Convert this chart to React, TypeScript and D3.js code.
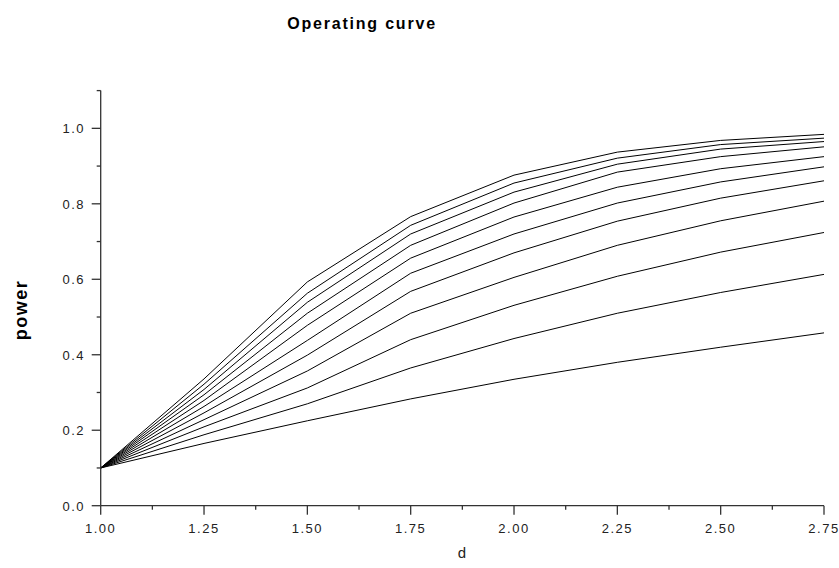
import React from 'react';
import * as d3 from 'd3';

// d values where the power was evaluated
const dValues = [1.0, 1.25, 1.5, 1.75, 2.0, 2.25, 2.5, 2.75];

// power curves, from the top one down to the bottom one
const curveA = [0.1, 0.336, 0.593, 0.766, 0.876, 0.937, 0.968, 0.984];
const curveB = [0.1, 0.322, 0.563, 0.743, 0.855, 0.921, 0.957, 0.974];
const curveC = [0.1, 0.308, 0.539, 0.72, 0.831, 0.905, 0.945, 0.965];
const curveD = [0.1, 0.294, 0.51, 0.69, 0.802, 0.884, 0.925, 0.951];
const curveE = [0.1, 0.279, 0.478, 0.656, 0.765, 0.844, 0.893, 0.925];
const curveF = [0.1, 0.263, 0.438, 0.616, 0.72, 0.802, 0.858, 0.898];
const curveG = [0.1, 0.246, 0.399, 0.568, 0.67, 0.754, 0.815, 0.861];
const curveH = [0.1, 0.228, 0.357, 0.51, 0.605, 0.69, 0.755, 0.807];
const curveI = [0.1, 0.209, 0.312, 0.44, 0.531, 0.608, 0.672, 0.724];
const curveJ = [0.1, 0.188, 0.27, 0.365, 0.443, 0.51, 0.565, 0.613];
const curveK = [0.1, 0.165, 0.225, 0.283, 0.335, 0.38, 0.42, 0.458];

const curves = [curveA, curveB, curveC, curveD, curveE, curveF, curveG, curveH, curveI, curveJ, curveK];

const xTickLabels = ['1.00', '1.25', '1.50', '1.75', '2.00', '2.25', '2.50', '2.75'];
const yTickLabels = ['0.0', '0.2', '0.4', '0.6', '0.8', '1.0'];

const W = 839;
const H = 568;

export default function App() {
  const x = d3.scaleLinear().domain([1, 2.75]).range([100.7, 824]);
  const y = d3.scaleLinear().domain([0, 1.1]).range([505.7, 90.6]);

  const line = d3.line<number>()
    .x((_, i) => x(dValues[i]))
    .y((v) => y(v));

  const xMinor = d3.range(1.125, 2.75, 0.25);
  const yMinor = d3.range(0.1, 1.11, 0.2);
  const axisColor = '#333';
  const tickFont = { fontFamily: 'Liberation Sans, Arial, sans-serif', fontSize: 13, letterSpacing: 1.5, fill: '#222' };

  return (
    <svg width={W} height={H} style={{ position: 'absolute', left: 0, top: 0 }}>
      <rect width={W} height={H} fill="#fff" />

      <text x={362} y={29} textAnchor="middle" fontFamily="Liberation Sans, Arial, sans-serif"
        fontWeight="bold" fontSize={16} letterSpacing={1.8} fill="#000">Operating curve</text>

      {/* curves */}
      {curves.map((c, i) => (
        <path key={i} d={line(c) || ''} fill="none" stroke="#000" strokeWidth={1} />
      ))}

      {/* axes */}
      <line x1={x(1)} x2={x(2.75)} y1={y(0)} y2={y(0)} stroke={axisColor} strokeWidth={1.3} />
      <line x1={x(1)} x2={x(1)} y1={y(0)} y2={y(1.1)} stroke={axisColor} strokeWidth={1.3} />

      {dValues.map((d, i) => (
        <g key={'xt' + i}>
          <line x1={x(d)} x2={x(d)} y1={y(0)} y2={y(0) + 9} stroke={axisColor} strokeWidth={1.3} />
          <text x={x(d)} y={533} textAnchor="middle" {...tickFont}>{xTickLabels[i]}</text>
        </g>
      ))}
      {xMinor.map((d, i) => (
        <line key={'xm' + i} x1={x(d)} x2={x(d)} y1={y(0)} y2={y(0) + 4} stroke={axisColor} strokeWidth={1.3} />
      ))}

      {yTickLabels.map((t, i) => (
        <g key={'yt' + i}>
          <line x1={x(1) - 9} x2={x(1)} y1={y(+t)} y2={y(+t)} stroke={axisColor} strokeWidth={1.3} />
          <text x={85} y={y(+t) + 5} textAnchor="end" {...tickFont}>{t}</text>
        </g>
      ))}
      {yMinor.map((v, i) => (
        <line key={'ym' + i} x1={x(1) - 4} x2={x(1)} y1={y(v)} y2={y(v)} stroke={axisColor} strokeWidth={1.3} />
      ))}

      <text x={462} y={558} textAnchor="middle" fontFamily="Liberation Sans, Arial, sans-serif"
        fontSize={15} fill="#222">d</text>
      <text transform="translate(27,310) rotate(-90)" textAnchor="middle"
        fontFamily="Liberation Sans, Arial, sans-serif" fontWeight="bold" fontSize={18} letterSpacing={1.5} fill="#000">power</text>
    </svg>
  );
}
